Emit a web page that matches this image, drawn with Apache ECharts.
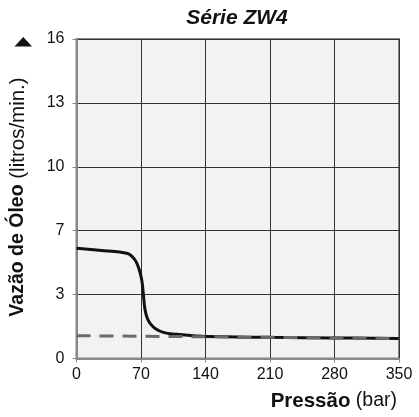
<!DOCTYPE html>
<html><head><meta charset="utf-8">
<script src="https://cdn.jsdelivr.net/npm/echarts@6/dist/echarts.min.js"></script>
<style>html,body{margin:0;padding:0;background:#fff}#c{width:419px;height:417px}</style>
</head><body><div id="c"></div>
<script>
var chartTitle = 'Série ZW4';
var yTickLabels = ['0', '3', '7', '10', '13', '16'];
// solid curve: pressure (bar) and flow (plot units on the 0..16 scale)
var curveX = [0, 30, 54.5, 59.9, 64.6, 68.2, 70.8, 72.4, 73.5, 74.8, 77, 80.5, 85.5, 94.2, 108.7, 126.8, 140, 210, 280, 350];
var curveY = [5.52, 5.4, 5.27, 5.13, 4.85, 4.43, 3.93, 3.3, 2.75, 2.35, 2.0, 1.72, 1.5, 1.31, 1.21, 1.14, 1.10, 1.06, 1.03, 1.0];
// dashed line
var dashX = [0, 140, 210, 280, 350];
var dashY = [1.14, 1.09, 1.06, 1.03, 1.0];

var FONT = '"Liberation Sans", Arial, Helvetica, sans-serif';
var chart = echarts.init(document.getElementById('c'), null, {renderer: 'canvas'});
var solid = curveX.map(function (x, i) { return [x, curveY[i]]; });
var dashed = dashX.map(function (x, i) { return [x, dashY[i]]; });
chart.setOption({
  animation: false,
  backgroundColor: '#fff',
  grid: {left: 76.5, right: 20, top: 39, bottom: 58.5, show: true, backgroundColor: '#f2f2f2', borderColor: '#888', borderWidth: 2},
  xAxis: {
    type: 'value', min: 0, max: 350, interval: 70,
    axisLine: {show: true, lineStyle: {color: '#888', width: 2}},
    axisTick: {show: true, length: 4, lineStyle: {color: '#888'}},
    axisLabel: {fontFamily: FONT, fontSize: 16, color: '#111', margin: 8},
    splitLine: {show: true, lineStyle: {color: '#333', width: 1}}
  },
  yAxis: {
    type: 'value', min: 0, max: 16, interval: 3.2,
    axisLine: {show: true, lineStyle: {color: '#888', width: 2}},
    axisTick: {show: true, length: 4, lineStyle: {color: '#888'}},
    axisLabel: {fontFamily: FONT, fontSize: 16, color: '#111', margin: 12,
      formatter: function (v) { return yTickLabels[Math.round(v / 3.2)]; }},
    splitLine: {show: true, lineStyle: {color: '#333', width: 1}}
  },
  series: [
    {type: 'line', data: solid, smooth: 0.45, showSymbol: false,
      lineStyle: {color: '#111', width: 3}, z: 2},
    {type: 'line', data: dashed, smooth: false, showSymbol: false,
      lineStyle: {color: '#6a6a6a', width: 3, type: [14, 9]}, z: 3}
  ],
  graphic: [
    {type: 'text', x: 237, y: 18.5, style: {text: chartTitle, font: 'italic bold 21px ' + FONT, fill: '#111', textAlign: 'center', textVerticalAlign: 'middle'}},
    {type: 'polygon', shape: {points: [[14.5, 46.5], [32, 46.5], [23.3, 37]]}, style: {fill: '#111'}},
    {type: 'text', x: 18, y: 197, rotation: Math.PI / 2,
      style: {text: '{b|Vazão de Óleo}{n| (litros/min.)}', textAlign: 'center', textVerticalAlign: 'middle',
        rich: {b: {font: 'bold 19.5px ' + FONT, fill: '#111'}, n: {font: '20.5px ' + FONT, fill: '#111'}}}},
    {type: 'text', x: 397, y: 401,
      style: {text: '{b|Pressão}{n| (bar)}', textAlign: 'right', textVerticalAlign: 'middle',
        rich: {b: {font: 'bold 20.5px ' + FONT, fill: '#111'}, n: {font: '19.5px ' + FONT, fill: '#111'}}}}
  ]
});
</script></body></html>
